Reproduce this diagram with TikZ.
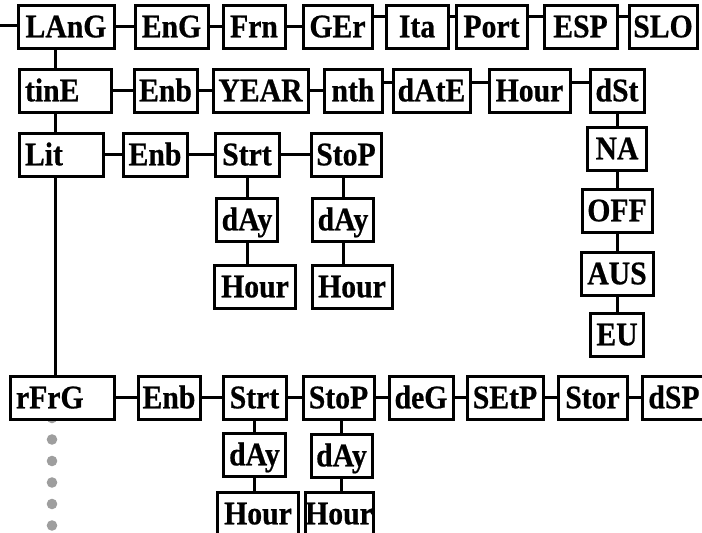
\documentclass[tikz,border=0pt]{standalone}
\usepackage{fontspec}
\setmainfont{Liberation Serif}
\newfontfamily\boxfont[FakeStretch=0.9,FakeBold=0.6]{Liberation Serif Bold}
\usetikzlibrary{positioning}

\begin{document}
\begin{tikzpicture}[x=1pt, y=-1pt, node distance=15pt, outer sep=0pt, line width=3pt]

\tikzstyle{box}=[rectangle,draw,anchor=north west,fill=white,inner xsep=0pt,inner ysep=0pt,minimum height=43pt,text height=21.6pt,text depth=0pt,font=\fontsize{33}{33}\boxfont]
\tikzstyle{leftbox}=[box,inner xsep=6pt,align=left]
\tikzstyle{dot}=[fill=black!38]

\useasboundingbox (0,0) rectangle (702,533);

% dots below the refrigeration entry
\fill[dot] (52,418) circle (5.3pt);
\fill[dot] (52,439.5) circle (5.3pt);
\fill[dot] (52,461) circle (5.3pt);
\fill[dot] (52,482.5) circle (5.3pt);
\fill[dot] (52,504) circle (5.3pt);
\fill[dot] (52,525.5) circle (5.3pt);

% language row
\node[box,minimum width=96pt] (lang) at (18,5) {LAnG};
\node[box,minimum width=73pt] (eng) [right=21pt of lang] {EnG};
\node[box,minimum width=62pt] (frn) [right=15pt of eng] {Frn};
\node[box,minimum width=69pt] (ger) [right=18pt of frn] {GEr};
\node[box,minimum width=62pt] (ita) [right=14pt of ger] {Ita};
\node[box,minimum width=71pt] (port) [right=8pt of ita] {Port};
\node[box,minimum width=73pt] (esp) [right=17pt of port] {ESP};
\node[box,minimum width=68pt] (slo) [right=12pt of esp] {SLO};

% time row
\node[leftbox,text width=80pt] (time) at (19,69) {tinE};
\node[box,minimum width=63pt] (timeenb) [right=23pt of time] {Enb};
\node[box,minimum width=95pt] (year) [right=16pt of timeenb] {YEAR};
\node[box,minimum width=58pt] (month) [right=16pt of year] {nth};
\node[box,minimum width=77pt] (date) [right=11pt of month] {dAtE};
\node[box,minimum width=81pt] (hour) [right=19pt of date] {Hour};
\node[box,minimum width=54pt] (dst) [right=20pt of hour] {dSt};
\node[box,minimum width=59pt] (na) [below=15pt of dst] {NA};
\node[box,minimum width=70pt] (off) [below=19pt of na] {OFF};
\node[box,minimum width=72pt] (aus) [below=20pt of off] {AUS};
\node[box,minimum width=53pt] (eu) [below=18pt of aus] {EU};

% light row
\node[leftbox,text width=72pt] (lit) at (19,133) {Lit};
\node[box,minimum width=64pt] (litenb) [right=20pt of lit] {Enb};
\node[box,minimum width=64pt] (litstart) [right=28pt of litenb] {Strt};
\node[box,minimum width=70pt] (litstop) [right=32pt of litstart] {StoP};
\node[box,minimum width=61pt] (litstartday) [below=22pt of litstart] {dAy};
\node[box,minimum width=81pt] (litstarthour) [below=24pt of litstartday,xshift=8pt] {Hour};
\node[box,minimum width=61pt] (litstopday) [below=22pt of litstop,xshift=-3pt] {dAy};
\node[box,minimum width=80pt] (litstophour) [below=24pt of litstopday,xshift=9pt] {Hour};

% refrigeration row
\node[leftbox,text width=92pt] (rfrg) at (10,376) {rFrG};
\node[box,minimum width=62pt] (rfrgenb) [right=24pt of rfrg] {Enb};
\node[box,minimum width=63pt] (rfrgstart) [right=23pt of rfrgenb] {Strt};
\node[box,minimum width=71pt] (rfrgstop) [right=17pt of rfrgstart] {StoP};
\node[box,minimum width=64pt] (deg) [right=15pt of rfrgstop] {deG};
\node[box,minimum width=76pt] (setp) [right=14pt of deg] {SEtP};
\node[box,minimum width=69pt] (stor) [right=15pt of setp] {Stor};
\node[box,minimum width=64pt] (dsp) [right=15pt of stor] {dSP};
\node[box,minimum width=62pt] (rfrgstartday) [below=14pt of rfrgstart] {dAy};
\node[box,minimum width=81pt] (rfrgstarthour) [below=16pt of rfrgstartday,xshift=3.5pt] {Hour};
\node[box,minimum width=61pt] (rfrgstopday) [below=15pt of rfrgstop,xshift=3pt] {dAy};
\node[box,minimum width=68pt] (rfrgstophour) [below=15pt of rfrgstopday,xshift=-2.5pt] {Hour};

\coordinate (menuin) at (0,25);
\coordinate (trunk) at (55,0);

% main column
\draw (menuin) -- (menuin -| lang.west);
\draw (lang.south -| trunk) -- (time.north -| trunk);
\draw (time.south -| trunk) -- (lit.north -| trunk);
\draw (lit.south -| trunk) -- (rfrg.north -| trunk);

% language links
\draw (lang) -- (eng);
\draw (eng) -- (frn);
\draw (frn) -- (ger);
\draw ([yshift=10pt]ger.east) -- ([yshift=10pt]ita.west);
\draw ([yshift=10pt]ita.east) -- ([yshift=10pt]port.west);
\draw ([yshift=10pt]port.east) -- ([yshift=10pt]esp.west);
\draw ([yshift=10pt]esp.east) -- ([yshift=10pt]slo.west);

% time links
\draw (time) -- (timeenb);
\draw (timeenb) -- (year);
\draw (year) -- (month);
\draw ([yshift=8pt]month.east) -- ([yshift=8pt]date.west);
\draw ([yshift=8pt]date.east) -- ([yshift=8pt]hour.west);
\draw ([yshift=8pt]hour.east) -- ([yshift=8pt]dst.west);
\draw (dst.south) -- (na.north);
\draw (na.south) -- (off.north);
\draw (off.south) -- (aus.north);
\draw (aus.south) -- (eu.north);

% light links
\draw (lit) -- (litenb);
\draw (litenb) -- (litstart);
\draw (litstart) -- (litstop);
\draw (litstart.south -| litstartday) -- (litstartday.north);
\draw (litstartday.south) -- (litstartday.south |- litstarthour.north);
\draw (litstop.south -| litstopday) -- (litstopday.north);
\draw (litstopday.south) -- (litstopday.south |- litstophour.north);

% refrigeration links
\draw (rfrg) -- (rfrgenb);
\draw (rfrgenb) -- (rfrgstart);
\draw (rfrgstart) -- (rfrgstop);
\draw (rfrgstop) -- (deg);
\draw (deg) -- (setp);
\draw (setp) -- (stor);
\draw (stor) -- (dsp);
\draw (rfrgstart.south -| rfrgstartday) -- (rfrgstartday.north);
\draw (rfrgstartday.south) -- (rfrgstartday.south |- rfrgstarthour.north);
\draw (rfrgstop.south -| rfrgstopday) -- (rfrgstopday.north);
\draw (rfrgstopday.south) -- (rfrgstopday.south |- rfrgstophour.north);
\end{tikzpicture}
\end{document}
